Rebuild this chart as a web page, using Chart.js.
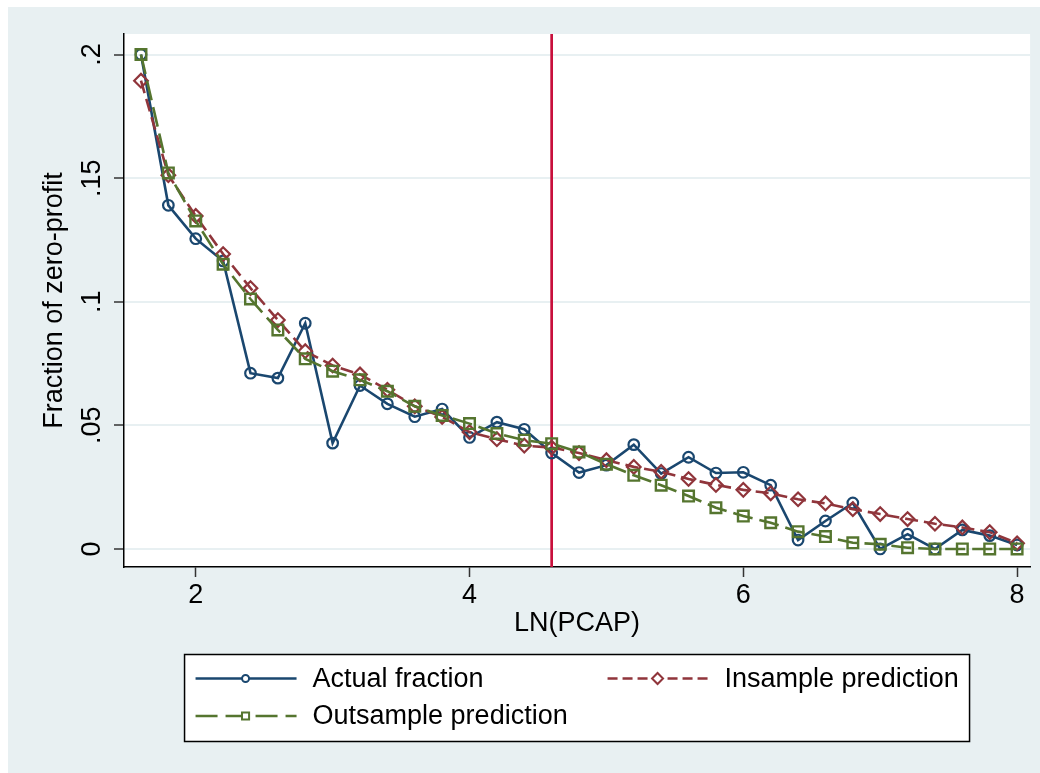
<!DOCTYPE html>
<html>
<head>
<meta charset="utf-8">
<script src="https://cdn.jsdelivr.net/npm/chart.js@4"></script>
<style>
  html, body { margin: 0; padding: 0; background: #fff; }
  canvas { display: block; }
</style>
</head>
<body>
<canvas id="zeroProfit" width="1040" height="773"></canvas>
<script>
// values
const lnPcap = [1.6, 1.8, 2.0, 2.2, 2.4, 2.6, 2.8, 3.0, 3.2, 3.4, 3.6, 3.8, 4.0, 4.2, 4.4, 4.6, 4.8,
                5.0, 5.2, 5.4, 5.6, 5.8, 6.0, 6.2, 6.4, 6.6, 6.8, 7.0, 7.2, 7.4, 7.6, 7.8, 8.0];
const actualFraction = [0.200, 0.139, 0.1255, 0.1165, 0.0711, 0.0691, 0.0913, 0.0428, 0.0661, 0.0587, 0.0535,
                        0.0566, 0.0451, 0.0513, 0.0484, 0.0388, 0.0309, 0.0339, 0.0422, 0.0305, 0.0371, 0.0307,
                        0.0310, 0.0258, 0.0036, 0.0113, 0.0186, 0.0, 0.0060, 0.0, 0.0077, 0.0054, 0.0016];
const insamplePred = [0.1894, 0.1512, 0.1347, 0.1193, 0.1055, 0.0926, 0.0800, 0.0742, 0.0706, 0.0644, 0.0577,
                      0.0534, 0.0473, 0.0444, 0.0418, 0.0410, 0.0388, 0.0359, 0.0332, 0.0312, 0.0283, 0.0259,
                      0.0239, 0.0225, 0.0201, 0.0184, 0.0161, 0.0141, 0.0121, 0.0102, 0.0087, 0.0068, 0.0023];
const outsamplePred = [0.2000, 0.1521, 0.1327, 0.1152, 0.1011, 0.0886, 0.0769, 0.0719, 0.0684, 0.0638, 0.0577,
                       0.0540, 0.0507, 0.0467, 0.0440, 0.0426, 0.0392, 0.0343, 0.0298, 0.0258, 0.0214, 0.0167,
                       0.0133, 0.0106, 0.0070, 0.0050, 0.0025, 0.0019, 0.0005, 0.0, 0.0, 0.0, 0.0];
const xTicks = [2, 4, 6, 8];
const yTicks = [0, 0.05, 0.1, 0.15, 0.2];
const yTickLabels = ['0', '.05', '.1', '.15', '.2'];
const cutoff = 4.6;

const FONT = 'Liberation Sans, Arial, sans-serif';
const BG = '#e8f0f2';

const toPoints = ys => lnPcap.map((x, i) => ({ x: x, y: ys[i] }));

const bgPlugin = {
    id: 'stataBg',
    beforeDraw(chart) {
        const { ctx, chartArea: a, width, height } = chart;
        ctx.save();
        ctx.fillStyle = '#fff';
        ctx.fillRect(0, 0, width, height);
        ctx.fillStyle = BG;
        ctx.fillRect(8, 7, width - 8, height - 7);
        ctx.fillStyle = '#fff';
        ctx.fillRect(a.left, a.top, a.right - a.left, a.bottom - a.top);
        ctx.restore();
    }
};

const cutoffLine = {
    id: 'cutoffLine',
    beforeDatasetsDraw(chart) {
        const { ctx, chartArea: a, scales } = chart;
        const x = scales.x.getPixelForValue(cutoff);
        ctx.save();
        ctx.strokeStyle = '#c8103c';
        ctx.lineWidth = 2.7;
        ctx.beginPath();
        ctx.moveTo(x, a.top);
        ctx.lineTo(x, a.bottom);
        ctx.stroke();
        ctx.restore();
    }
};

// two-column boxed legend below the axis title
const boxLegend = {
    id: 'boxLegend',
    afterDraw(chart) {
        const { ctx, chartArea: a } = chart;
        const ds = chart.data.datasets;
        const cx = (a.left + a.right) / 2;
        const boxW = 785, boxH = 87, boxTop = 654.5;
        const left = cx - boxW / 2;
        ctx.save();
        ctx.fillStyle = '#fff';
        ctx.fillRect(left, boxTop, boxW, boxH);
        ctx.strokeStyle = '#000';
        ctx.lineWidth = 1.5;
        ctx.strokeRect(left, boxTop, boxW, boxH);
        const slots = [[0, 0], [1, 0], [0, 1]];
        ds.forEach((d, i) => {
            const [col, row] = slots[i];
            const x0 = left + 11 + col * 412;
            const y = boxTop + 24 + row * 37.5;
            ctx.strokeStyle = d.borderColor;
            ctx.lineWidth = 2.4;
            ctx.setLineDash(d.legendDash || []);
            ctx.beginPath();
            ctx.moveTo(x0, y);
            ctx.lineTo(x0 + 101, y);
            ctx.stroke();
            ctx.setLineDash([]);
            ctx.fillStyle = '#fff';
            ctx.lineWidth = 2;
            Chart.helpers.drawPoint(ctx, {
                pointStyle: d.pointStyle,
                radius: d.legendRadius,
                borderWidth: 2,
                rotation: 0
            }, x0 + 50, y);
            ctx.fillStyle = '#000';
            ctx.font = '27px ' + FONT;
            ctx.textBaseline = 'middle';
            ctx.textAlign = 'left';
            ctx.fillText(d.label, x0 + 117, y + 1);
        });
        ctx.restore();
    }
};

new Chart(document.getElementById('zeroProfit').getContext('2d'), {
    type: 'line',
    data: {
        datasets: [{
            label: 'Actual fraction',
            data: toPoints(actualFraction),
            borderColor: '#1a476f',
            borderWidth: 2.6,
            pointStyle: 'circle',
            pointRadius: 5.3,
            legendRadius: 3.5,
            pointBorderWidth: 2.2,
            pointBackgroundColor: 'rgba(0,0,0,0)',
            order: 3
        }, {
            label: 'Insample prediction',
            data: toPoints(insamplePred),
            borderColor: '#90353b',
            borderWidth: 2.6,
            borderDash: [13, 6],
            legendDash: [10, 5],
            pointStyle: 'rectRot',
            pointRadius: 6.8,
            legendRadius: 5.5,
            pointBorderWidth: 2.2,
            pointBackgroundColor: 'rgba(0,0,0,0)',
            order: 2
        }, {
            label: 'Outsample prediction',
            data: toPoints(outsamplePred),
            borderColor: '#55752f',
            borderWidth: 2.6,
            borderDash: [20, 7],
            legendDash: [22, 8],
            pointStyle: 'rect',
            pointRadius: 7.5,
            legendRadius: 5,
            pointBorderWidth: 2.4,
            pointBackgroundColor: 'rgba(0,0,0,0)',
            order: 1
        }]
    },
    options: {
        responsive: false,
        animation: false,
        devicePixelRatio: 1,
        tension: 0,
        layout: { padding: { top: 34, right: 8, bottom: 128, left: 0 } },
        plugins: {
            legend: { display: false },
            tooltip: { enabled: false }
        },
        scales: {
            x: {
                type: 'linear',
                min: 1.476,
                max: 8.095,
                afterBuildTicks: s => { s.ticks = xTicks.map(v => ({ value: v })); },
                afterFit: s => { s.height = 78; },
                grid: { drawOnChartArea: false, tickLength: 10, tickColor: '#333', tickWidth: 1.5 },
                border: { color: '#000', width: 1.5 },
                ticks: { color: '#000', font: { family: FONT, size: 27 }, padding: 2, maxRotation: 0 },
                title: {
                    display: true, text: 'LN(PCAP)', color: '#000',
                    font: { family: FONT, size: 27 }, padding: { top: 0, bottom: 5 }
                }
            },
            y: {
                min: -0.0073,
                max: 0.2083,
                afterBuildTicks: s => { s.ticks = yTicks.map(v => ({ value: v })); },
                afterFit: s => { s.width = 124; },
                grid: { color: BG, lineWidth: 2, tickLength: 10, tickColor: '#333', tickWidth: 1.5 },
                border: { color: '#000', width: 1.5 },
                ticks: {
                    color: '#000', font: { family: FONT, size: 27 },
                    minRotation: 90, maxRotation: 90, crossAlign: 'center', padding: 3,
                    callback: (v) => yTickLabels[yTicks.indexOf(v)] ?? ''
                },
                title: {
                    display: true, text: 'Fraction of zero-profit', color: '#000',
                    font: { family: FONT, size: 27 }, padding: { top: 38, bottom: 0 }
                }
            }
        }
    },
    plugins: [bgPlugin, cutoffLine, boxLegend]
});
</script>
</body>
</html>
